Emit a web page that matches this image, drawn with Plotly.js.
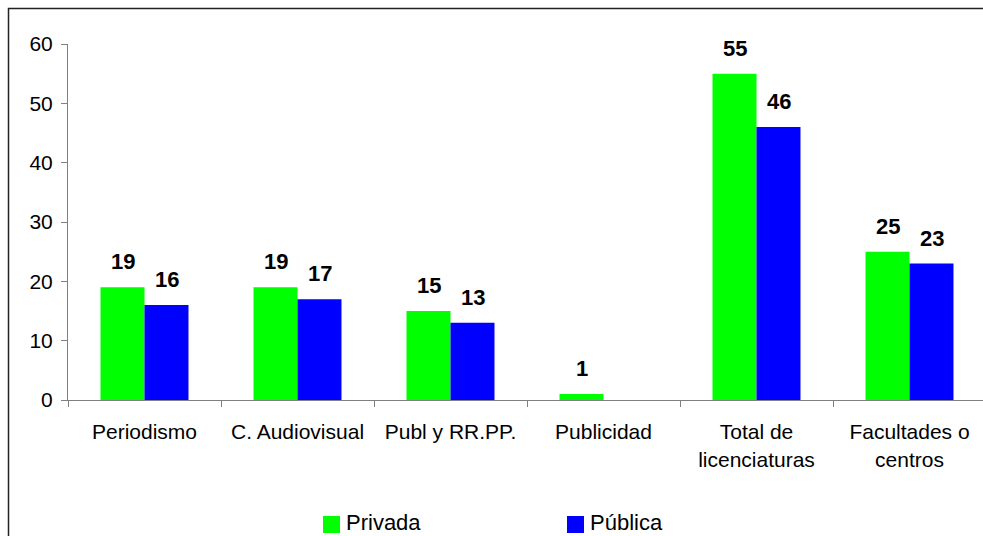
<!DOCTYPE html>
<html>
<head>
<meta charset="utf-8">
<script src="https://cdn.plot.ly/plotly-3.0.1.min.js"></script>
<style>
html,body{margin:0;padding:0;background:#fff;overflow:hidden;width:983px;height:536px;}
#chart{width:990px;height:536px;}
</style>
</head>
<body>
<div id="chart"></div>
<script>
var categories = ["Periodismo", "C. Audiovisual", "Publ y RR.PP.", "Publicidad", "Total de<br>licenciaturas", "Facultades o<br>centros"];
var seriesNames = ["Privada", "Pública"];
var privada = [19, 19, 15, 1, 55, 25];
var publica = [16, 17, 13, 0, 46, 23];
var seriesColors = ["#00FF00", "#0000FF"];
var yTicks = [0, 10, 20, 30, 40, 50, 60];

var FONT = "Liberation Sans, Arial, sans-serif";
var L = 68, R = 986, T = 44, B = 400;
function px2x(p){ return (p - L) / (R - L); }
function px2y(p){ return (B - p) / (B - T); }

var seriesVals = [privada, publica];
var traces = seriesVals.map(function(v, i){
  return {
    type: "bar",
    x: categories,
    y: v,
    name: seriesNames[i],
    marker: {color: seriesColors[i], line: {width: 0}},
    showlegend: false,
    hoverinfo: "x+y+name"
  };
});

var annotations = [];
seriesVals.forEach(function(v, i){
  v.forEach(function(val, j){
    if (val === 0) return;
    annotations.push({
      x: categories[j], y: val, xref: "x", yref: "y",
      xshift: i === 0 ? -22 : 22, yshift: 11,
      yanchor: "bottom", xanchor: "center",
      text: String(val), showarrow: false,
      font: {family: FONT, size: 22, color: "#000", weight: "bold"}
    });
  });
});

// legend (drawn manually to match marker size)
var legendX = [323, 567];
var shapes = [{
  type: "rect", xref: "paper", yref: "paper",
  x0: px2x(8.5), x1: 1.2, y0: -0.6, y1: px2y(8.5),
  line: {color: "#222", width: 1.5}, fillcolor: "rgba(0,0,0,0)", layer: "below"
}];
seriesNames.forEach(function(n, i){
  shapes.push({
    type: "rect", xref: "paper", yref: "paper",
    x0: px2x(legendX[i]), x1: px2x(legendX[i] + 17),
    y0: px2y(533), y1: px2y(516),
    fillcolor: seriesColors[i], line: {width: 0}
  });
  annotations.push({
    xref: "paper", yref: "paper",
    x: px2x(legendX[i] + 21), y: px2y(522),
    xanchor: "left", yanchor: "middle",
    text: n, showarrow: false,
    font: {family: FONT, size: 22, color: "#000"}
  });
});

var layout = {
  width: 990, height: 536,
  margin: {l: L, r: 990 - R, t: T, b: 536 - B, pad: 0},
  paper_bgcolor: "#fff", plot_bgcolor: "#fff",
  font: {family: FONT, color: "#000", size: 21},
  barmode: "group",
  bargap: 0.425, bargroupgap: 0,
  showlegend: false,
  xaxis: {
    type: "category", range: [-0.5, 5.5],
    tickson: "boundaries", ticks: "outside", ticklen: 6, tickcolor: "#808080",
    showline: true, linecolor: "#808080", linewidth: 1,
    showgrid: false, zeroline: false,
    tickfont: {family: FONT, size: 21, color: "#000"},
    ticklabelstandoff: 13
  },
  yaxis: {
    range: [0, 60], tickvals: yTicks, ticktext: yTicks.map(String),
    ticks: "outside", ticklen: 6, tickcolor: "#808080",
    showline: true, linecolor: "#808080", linewidth: 1,
    showgrid: false, zeroline: false,
    tickfont: {family: FONT, size: 21, color: "#000"},
    ticklabelstandoff: 4
  },
  shapes: shapes,
  annotations: annotations
};

Plotly.newPlot("chart", traces, layout, {displayModeBar: false, staticPlot: true});
</script>
</body>
</html>
